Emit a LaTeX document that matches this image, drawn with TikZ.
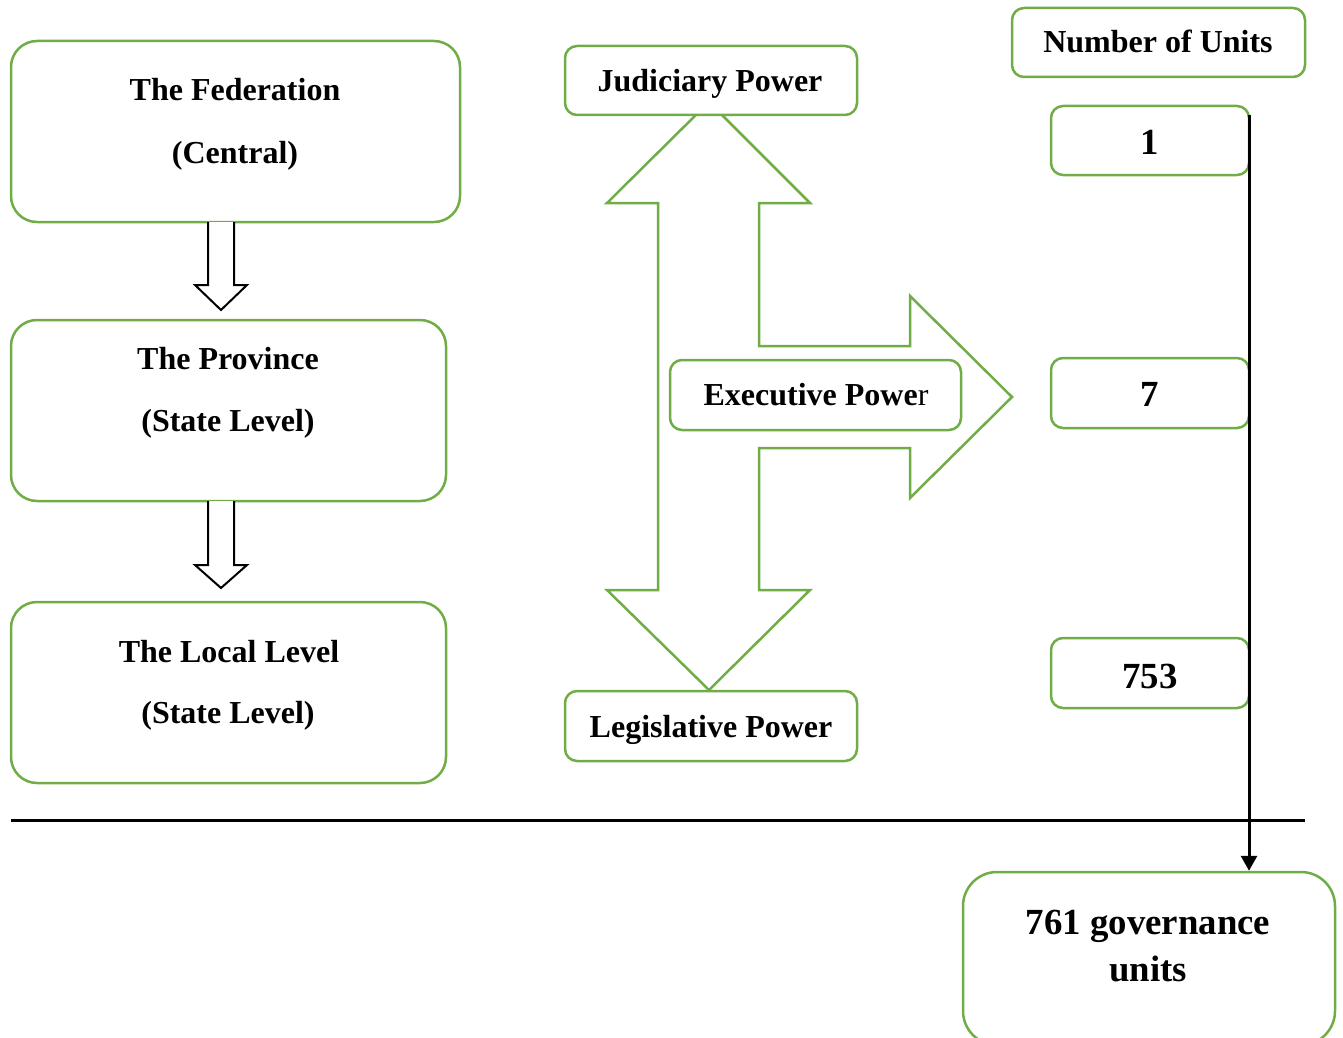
\documentclass[tikz,border=0pt]{standalone}
\usepackage{fontspec}
\setmainfont{Liberation Serif}
\usetikzlibrary{fit,arrows.meta}
\definecolor{gbord}{HTML}{70AD47}
\begin{document}
\begin{tikzpicture}[x=0.5pt,y=-0.5pt,
  gbox/.style={draw=gbord, line width=1.25pt, fill=white, inner sep=0pt, rounded corners=#1},
  gbox/.default=6pt,
  txt/.style={font=\fontsize{16}{19}\selectfont\bfseries, anchor=base, inner sep=0pt},
  bigtxt/.style={font=\fontsize{18.4}{22}\selectfont\bfseries, anchor=base, inner sep=0pt},
  blk/.style={draw=black, line width=1pt, fill=white, line join=miter}]
\path[use as bounding box, clip] (0,0) rectangle (1343,1038);

% big three-way green arrow
\draw[draw=gbord, line width=1.25pt, fill=white, line join=miter]
  (709,102) -- (810,203) -- (759,203) -- (759,346) -- (910,346) -- (910,296)
  -- (1012,397) -- (910,498) -- (910,448) -- (759,448) -- (759,590)
  -- (810,590) -- (709,690) -- (607,590) -- (658,590) -- (658,203)
  -- (607,203) -- cycle;

% left column boxes
\node[gbox=13pt, fit={(11,41)(460,222)}] (fed) {};
\node[gbox=13pt, fit={(11,320)(446,501)}] (prov) {};
\node[gbox=13pt, fit={(11,602)(446,783)}] (local) {};
\node[txt] (fed1) at (235,101) {The Federation};
\node[txt] (fed2) at (235,163) {(Central)};
\node[txt] (prov1) at (228,369) {The Province};
\node[txt] (prov2) at (228,431) {(State Level)};
\node[txt] (loc1) at (229,662) {The Local Level};
\node[txt] (loc2) at (228,723) {(State Level)};

% small block arrows
\draw[blk] (208,222) -- (208,285) -- (195,285) -- (221,310) -- (247,285)
  -- (234,285) -- (234,222);
\draw[blk] (208,501) -- (208,565) -- (195,565) -- (221,588) -- (247,565)
  -- (234,565) -- (234,501);

% power boxes
\node[gbox, fit={(565,46)(857,115)}] (jud) {};
\node[gbox, fit={(565,691)(857,761)}] (leg) {};
\node[gbox, fit={(670,360)(961,430)}] (exe) {};
\node[txt] (judt) at (710,91) {Judiciary Power};
\node[txt] (legt) at (711,737) {Legislative Power};
\node[txt] (exet) at (816,405) {Executive Powe\mdseries r};

% units column
\node[gbox, fit={(1012,8)(1305,77)}] (nou) {};
\node[txt] (nout) at (1158,53) {Number of Units};
\node[gbox, fit={(1051,106)(1249,175)}] (u1) {};
\node[gbox, fit={(1051,358)(1249,428)}] (u7) {};
\node[gbox, fit={(1051,638)(1249,708)}] (u753) {};
\node[bigtxt] (u1t) at (1150,155) {1};
\node[bigtxt] (u7t) at (1150,406) {7};
\node[bigtxt] (u753t) at (1150,688) {753};

\node[gbox=17pt, fit={(963,872)(1335,1045)}] (total) {};
\node[bigtxt] (tot1) at (1148,934) {761 governance};
\node[bigtxt] (tot2) at (1148,981) {units};

% horizontal rule
\coordinate (hl) at (11,820);
\coordinate (hr) at (1305,820);
\draw[line width=1.5pt] (hl) -- (hr);

% vertical connector
\coordinate (vtop) at (1249,115);
\draw[line width=1.5pt, -{Triangle[length=7.5pt,width=8pt]}] (vtop) -- (vtop |- total.north);
\end{tikzpicture}
\end{document}
